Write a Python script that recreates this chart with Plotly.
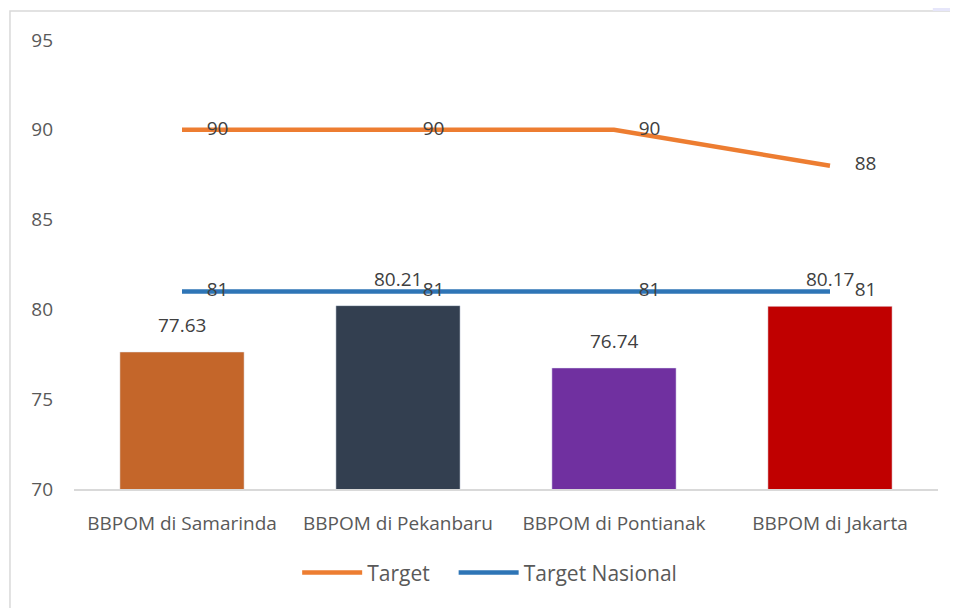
import plotly.graph_objects as go

categories = ["BBPOM di Samarinda", "BBPOM di Pekanbaru", "BBPOM di Pontianak", "BBPOM di Jakarta"]
realisasi = [77.63, 80.21, 76.74, 80.17]
target = [90, 90, 90, 88]
target_nasional = [81, 81, 81, 81]
y_ticks = [70, 75, 80, 85, 90, 95]

bar_colors = ["#C4662A", "#333F50", "#7030A0", "#C00000"]
FONT = "'Open Sans', sans-serif"
LABEL = "#404040"
TICK = "#595959"
FS = 19

fig = go.Figure()
fig.add_trace(go.Bar(
    x=categories, y=realisasi, marker_color=bar_colors, width=0.575,
    showlegend=False, hoverinfo="x+y",
))
fig.add_trace(go.Scatter(
    x=categories, y=target, name="Target", mode="lines+markers+text",
    line=dict(color="#ED7D31", width=4.5),
    marker=dict(size=38, color="rgba(0,0,0,0)"),
    text=[str(v) for v in target], textposition="middle right",
    textfont=dict(family=FONT, size=FS, color=LABEL),
    legend="legend",
))
fig.add_trace(go.Scatter(
    x=categories, y=target_nasional, name="Target Nasional", mode="lines+markers+text",
    line=dict(color="#2E75B6", width=4.5),
    marker=dict(size=38, color="rgba(0,0,0,0)"),
    text=[str(v) for v in target_nasional], textposition="middle right",
    textfont=dict(family=FONT, size=FS, color=LABEL),
    legend="legend2",
))

for c, v in zip(categories, realisasi):
    fig.add_annotation(x=c, y=v, text=f"{v:.2f}", showarrow=False,
                       yanchor="bottom", yshift=12,
                       font=dict(family=FONT, size=FS, color=LABEL))

# chart border and corner artifact
fig.add_shape(type="rect", xref="paper", yref="paper",
              x0=-0.0741, x1=1.05, y0=-0.3, y1=1.0646,
              line=dict(color="#D9D9D9", width=1.5), fillcolor="rgba(0,0,0,0)", layer="below")
fig.add_shape(type="rect", xref="paper", yref="paper",
              x0=0.994, x1=1.05, y0=1.0646, y1=1.12,
              line=dict(width=0), fillcolor="#E6E6FA", layer="below")

leg_common = dict(orientation="h", xanchor="left", y=-0.187, yanchor="middle",
                  font=dict(size=21, color=TICK), itemwidth=60, bgcolor="rgba(0,0,0,0)")

fig.update_layout(
    width=958, height=608,
    margin=dict(l=66, r=28, t=32, b=127),
    paper_bgcolor="white", plot_bgcolor="white",
    font=dict(family=FONT, size=FS, color=TICK),
    xaxis=dict(showgrid=False, showline=True, linecolor="#D9D9D9", linewidth=1.5,
               ticks="", ticklabelstandoff=16, tickfont=dict(size=FS, color=TICK)),
    yaxis=dict(range=[70, 95], tickvals=y_ticks, showgrid=False, zeroline=False,
               showline=False, ticks="", ticklabelstandoff=20,
               tickfont=dict(size=FS, color=TICK)),
    legend=dict(x=0.2583, **leg_common),
    legend2=dict(x=0.4394, **leg_common),
    hovermode="closest",
)

fig.write_html("out.html")
